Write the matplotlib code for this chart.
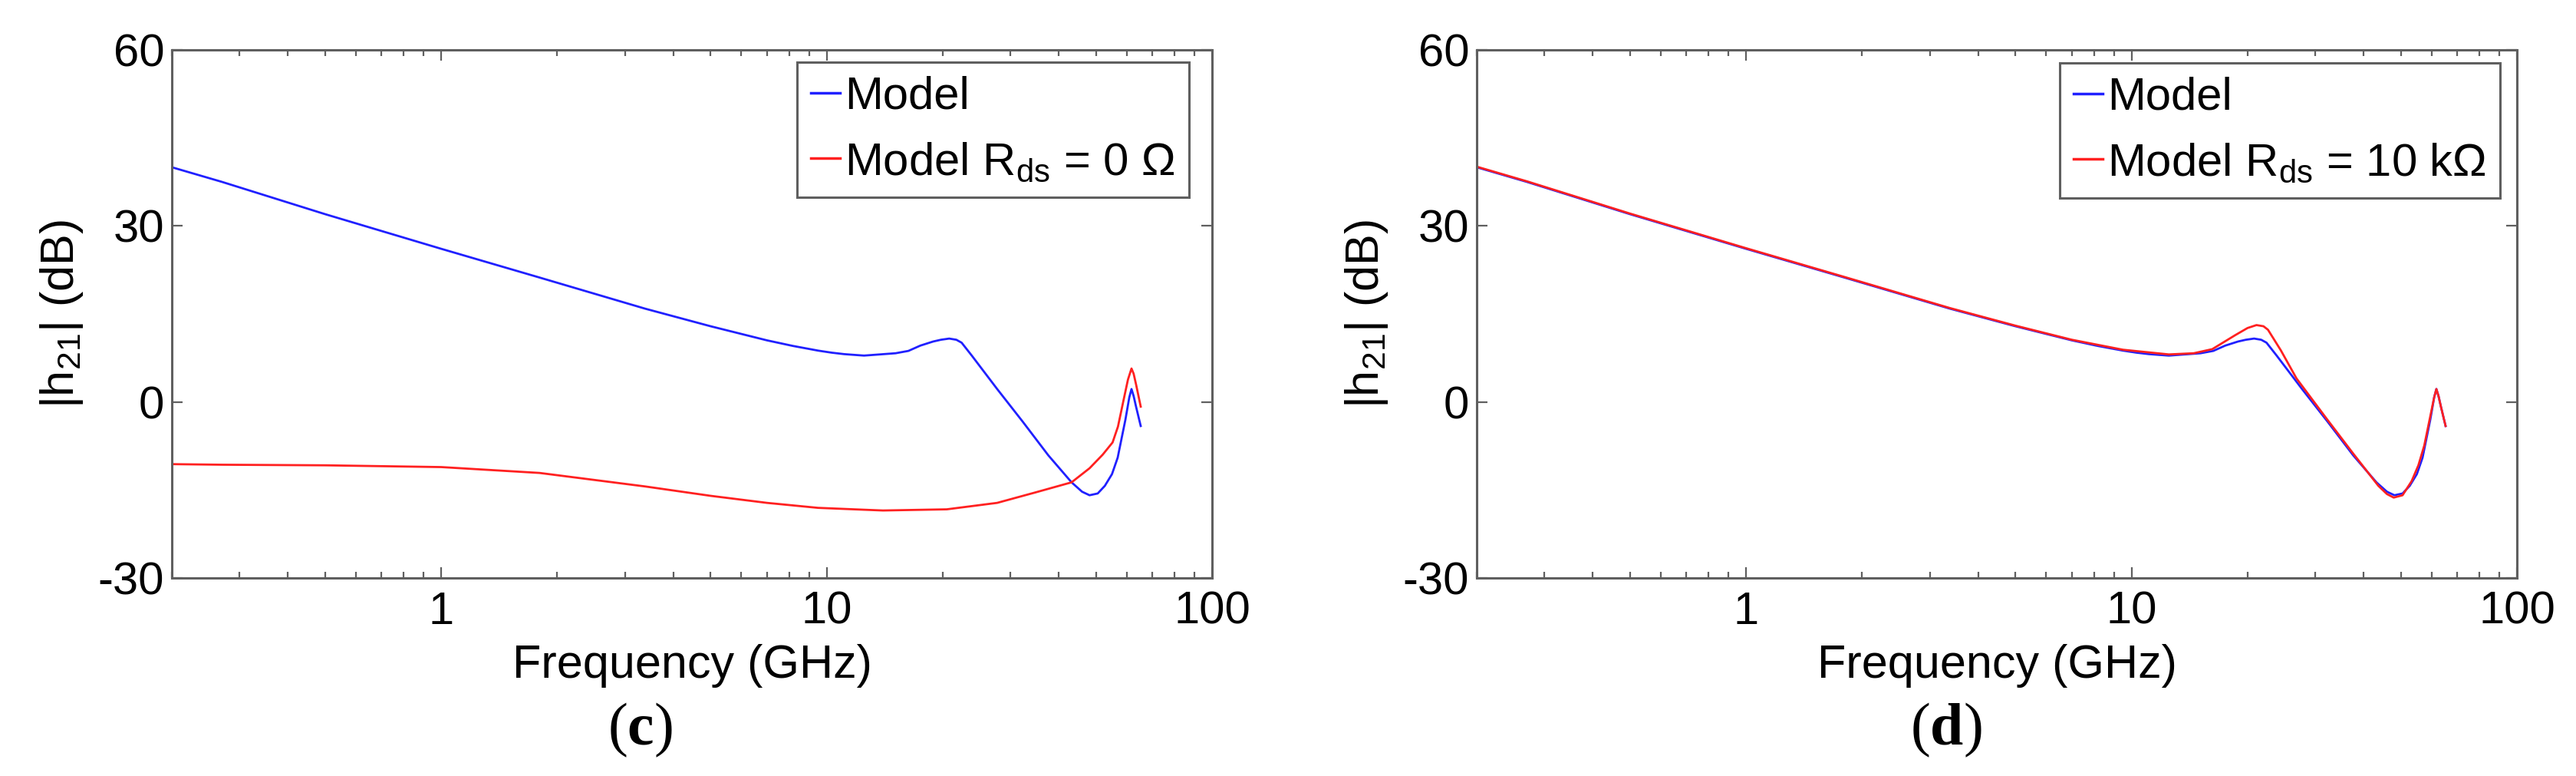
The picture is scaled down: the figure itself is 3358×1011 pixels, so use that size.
import matplotlib
matplotlib.use('Agg')

import matplotlib.pyplot as plt
from matplotlib.ticker import FixedLocator, NullFormatter, LogLocator

# ------------------------------------------------------------
# Datos (frecuencia en GHz, |h21| en dB)
# ------------------------------------------------------------
freq_model = [0.2, 0.27, 0.5, 1.0, 1.8, 3.38, 5.0, 7.0, 8.17, 9.5, 10.3, 11.1,
              12.5, 15.1, 16.3, 17.5, 18.9, 19.8, 20.8, 21.7, 22.4, 23.8,
              27.7, 32.3, 37.6, 43.2, 46.0, 48.1, 50.5, 52.7, 55.0, 56.9,
              59.6, 61.0, 61.8, 62.6, 63.5, 65.3]
h21_model = [40.0, 37.5, 32.0, 26.1, 21.2, 15.9, 12.9, 10.5, 9.55, 8.75, 8.4, 8.15,
             7.9, 8.3, 8.7, 9.6, 10.3, 10.6, 10.8, 10.6, 10.1, 7.9,
             2.2, -3.4, -9.1, -13.7, -15.3, -15.9, -15.6, -14.3, -12.3, -9.5,
             -3.0, 0.8, 2.2, 1.0, -0.8, -4.1]

freq_rds0 = [0.2, 0.27, 0.5, 1.0, 1.8, 3.38, 5.0, 7.0, 9.5, 14.0, 20.5, 27.7,
             34.9, 43.2, 48.1, 52.0, 55.2, 57.0, 58.8, 60.5, 61.8, 62.6, 63.5, 65.3]
h21_rds0 = [-10.6, -10.7, -10.8, -11.1, -12.1, -14.4, -16.0, -17.2, -18.05, -18.5,
            -18.3, -17.2, -15.4, -13.7, -11.3, -9.0, -6.9, -4.2, 0.0, 3.8,
            5.7, 4.8, 3.0, -0.8]

freq_rds10k = [0.2, 0.27, 0.5, 1.0, 1.8, 3.38, 5.0, 7.0, 9.5, 12.5, 14.5, 16.2,
               18.6, 20.0, 21.1, 22.0, 22.6, 24.4, 26.8, 32.2, 37.5, 43.7,
               46.0, 47.9, 50.5, 53.3, 55.5, 57.5, 61.0, 61.8, 62.6, 63.5, 65.3]
h21_rds10k = [40.1, 37.6, 32.1, 26.2, 21.3, 16.0, 13.0, 10.6, 8.9, 8.1, 8.3, 9.0,
              11.4, 12.6, 13.1, 12.9, 12.3, 8.8, 4.0, -3.0, -8.7, -14.3,
              -15.7, -16.3, -15.9, -13.5, -10.8, -7.4, 0.8, 2.2, 1.0, -0.8, -4.1]

ytick_vals = [-30, 0, 30, 60]
xtick_vals = [1, 10, 100]
xtick_labels = ['1', '10', '100']
labels_c = ['Model', 'Model R$_{ds}$ = 0 Ω']
labels_d = ['Model', 'Model R$_{ds}$ = 10 kΩ']

# ------------------------------------------------------------
# Estilo
# ------------------------------------------------------------
plt.rcParams['font.family'] = ['Liberation Sans', 'DejaVu Sans']
plt.rcParams['mathtext.fontset'] = 'custom'
plt.rcParams['mathtext.rm'] = 'Liberation Sans'
plt.rcParams['mathtext.it'] = 'Liberation Sans:italic'
plt.rcParams['mathtext.bf'] = 'Liberation Serif:bold'
plt.rcParams['mathtext.default'] = 'rm'

W, H = 3358, 1011
fig = plt.figure(figsize=(W / 100, H / 100), dpi=100)

GRIS = '#5f5f5f'
FS = 43


def dibujar_panel(ax, series, etiquetas, leg_anchor):
    for (f, h), color in zip(series, ['#2020ff', '#ff2020']):
        ax.plot(f, h, color=color, lw=2.0)

    ax.set_xscale('log')
    ax.set_xlim(0.2, 100)
    ax.set_ylim(-30, 60)

    ax.xaxis.set_major_locator(FixedLocator(xtick_vals))
    ax.set_xticklabels(xtick_labels)
    ax.xaxis.set_minor_locator(LogLocator(base=10, subs=range(2, 10)))
    ax.xaxis.set_minor_formatter(NullFormatter())
    ax.set_yticks(ytick_vals)
    ax.set_yticklabels([str(v) for v in ytick_vals])

    ax.tick_params(which='both', direction='in', top=True, right=True,
                   color=GRIS, width=1.6, labelsize=FS, labelcolor='black')
    ax.tick_params(which='major', length=10)
    ax.tick_params(which='minor', length=6)
    ax.tick_params(axis='x', which='major', pad=12)
    ax.tick_params(axis='y', which='major', pad=7)

    for s in ax.spines.values():
        s.set_color(GRIS)
        s.set_linewidth(2.2)

    ax.set_xlabel('Frequency (GHz)', fontsize=FS + 1, labelpad=10)
    ax.set_ylabel('|h$_{21}$| (dB)', fontsize=FS + 1, labelpad=12)

    leg = ax.legend(etiquetas, loc='upper right', bbox_to_anchor=leg_anchor,
                    borderaxespad=0, fontsize=FS, handlelength=0.65,
                    handletextpad=0.1, borderpad=0.3, labelspacing=0.5,
                    fancybox=False, framealpha=1)
    leg.get_frame().set_edgecolor(GRIS)
    leg.get_frame().set_linewidth(2.2)
    for ln in leg.get_lines():
        ln.set_linewidth(2.5)


ax_c = fig.add_axes([224 / W, 1 - 753 / H, 1356 / W, 688 / H])
dibujar_panel(ax_c, [(freq_model, h21_model), (freq_rds0, h21_rds0)],
              labels_c, (1 - 30 / 1356, 1 - 16 / 688))

ax_d = fig.add_axes([1925 / W, 1 - 753 / H, 1356 / W, 688 / H])
dibujar_panel(ax_d, [(freq_model, h21_model), (freq_rds10k, h21_rds10k)],
              labels_d, (1 - 22 / 1356, 1 - 17 / 688))

# Etiquetas de los paneles
for xc, letra in [(834, 'c'), (2537, 'd')]:
    fig.text(xc / W, 1 - 951 / H, '($\\mathbf{' + letra + '}$)',
             family='Liberation Serif', fontsize=56, ha='center', va='center')

fig.savefig('out.png', dpi=100)
plt.close(fig)
